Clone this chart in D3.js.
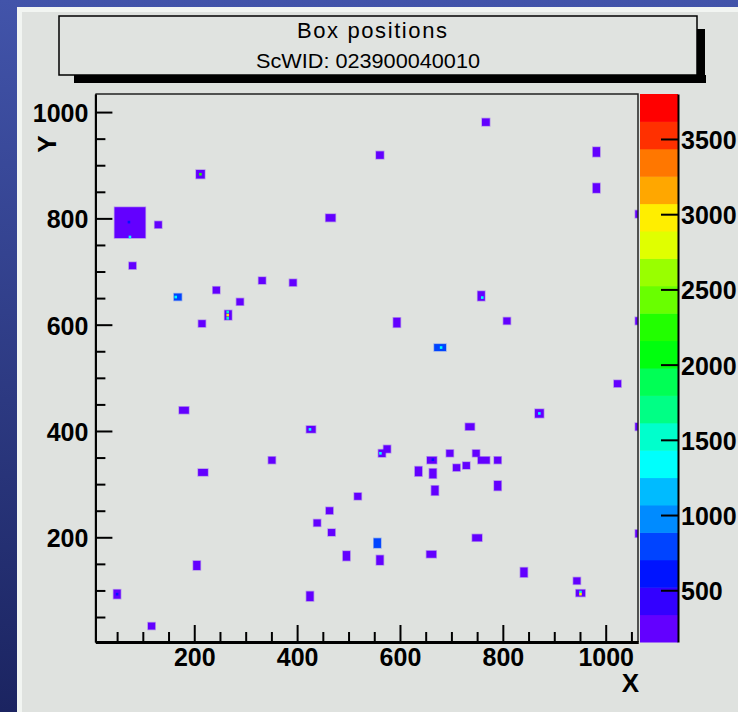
<!DOCTYPE html>
<meta charset="UTF-8">
<html lang="en">
<head><link rel="icon" href="data:,"></head>
<style>
body {
  margin: 0;
  background: #1c2562;
}
svg {
  display: block;
}
text {
  font-family: "Liberation Sans", Arial, Helvetica, sans-serif;
}
</style>
<script src="https://unpkg.com/d3@7.8.5/dist/d3.min.js"></script>
<body>
    <svg id="view"></svg>
</body>
<script>
const viewDims = { width: 738, height: 712 };

const titleLines = ["Box positions", "ScWID: 023900040010"];
const xTitle = "X";
const yTitle = "Y";
const xRange = [7.8, 1062.8];
const yRange = [3, 1034];
const zRange = [156, 3799];
const nLevels = 20;
const xTicks = [200, 400, 600, 800, 1000];
const yTicks = [200, 400, 600, 800, 1000];
const zTicks = [500, 1000, 1500, 2000, 2500, 3000, 3500];
const minorStep = 50;

// boxes: centre x, centre y, width, height (data units), content
const boxes = [
  [767, 981, 15, 14, 250], [561, 919, 15, 14, 250], [982, 925, 14, 18, 250],
  [982, 857, 14, 18, 250], [212, 883, 17, 16, 250], [75, 792, 60, 58, 250],
  [130, 788, 14, 13, 250], [465, 801, 19, 14, 250], [1065, 808, 15, 14, 250],
  [80, 711, 14, 13, 250], [168, 652, 15, 13, 800], [243, 665, 14, 13, 250],
  [332, 683, 14, 13, 250], [289, 643, 14, 13, 250], [266, 618, 14, 18, 250],
  [215, 602, 14, 13, 250], [392, 679, 14, 13, 250], [758, 654, 14, 18, 250],
  [594, 604, 14, 18, 250], [808, 607, 14, 13, 250], [1065, 607, 15, 14, 250],
  [678, 557, 23, 13, 800], [1023, 489, 14, 13, 250], [871, 433, 17, 16, 250],
  [1065, 408, 15, 14, 250], [427, 403, 18, 13, 250], [736, 408, 18, 13, 250],
  [351, 345, 14, 13, 250], [565, 358, 14, 14, 250], [575, 366, 14, 14, 250],
  [697, 358, 14, 13, 250], [748, 358, 14, 13, 250], [763, 345, 23, 13, 250],
  [790, 345, 14, 13, 250], [662, 345, 19, 13, 250], [636, 324, 14, 18, 250],
  [664, 320, 14, 18, 250], [710, 331, 14, 13, 250], [729, 335, 14, 13, 250],
  [790, 297, 14, 18, 250], [668, 288, 14, 18, 250], [518, 277, 14, 13, 250],
  [463, 250, 14, 13, 250], [439, 227, 14, 13, 250], [467, 209, 14, 13, 250],
  [556, 189, 14, 18, 800], [496, 165, 14, 18, 250], [561, 157, 14, 18, 250],
  [661, 168, 19, 13, 250], [750, 199, 19, 13, 250], [1065, 207, 15, 14, 250],
  [841, 134, 14, 18, 250], [944, 118, 14, 13, 250], [951, 95, 18, 13, 250],
  [425, 89, 14, 18, 250], [180, 439, 19, 13, 250], [217, 322, 19, 13, 250],
  [205, 147, 14, 17, 250], [50, 93, 14, 17, 250], [117, 33, 14, 13, 250]
];

// single hot bins inside boxes: x, y, content
const hotBins = [
  [212, 883, 2300], [73, 793, 700], [75, 765, 1400], [164, 652, 1400],
  [265, 624, 1500], [265, 618, 3000], [265, 612, 1500], [760, 651, 1400],
  [680, 557, 1400], [871, 433, 1400], [425, 403, 1400], [562, 358, 1400],
  [951, 97, 1500], [951, 93, 3000], [50, 93, 700], [664, 346, 700]
];
const hotSize = 5;

const frame = { left: 95.4, right: 638, top: 94, bottom: 642 };
const zbar = { left: 640, right: 678 };

// ROOT pretty palette (violet -> red), 50 colours shared over 20 levels
function levelColor(i){
    const idx = Math.floor((i + 0.99) * 50 / nLevels);
    const hue = 280 - (idx + 1) * 5.6;
    return d3.hsl(hue, 1, 0.5).formatHex();
}

function zColor(z){
    let lev = Math.floor((z - zRange[0]) / (zRange[1] - zRange[0]) * nLevels);
    lev = Math.max(0, Math.min(nLevels - 1, lev));
    return levelColor(lev);
}

function minorTicks(dom, majors){
    let out = [];
    for(let v = Math.ceil(dom[0] / minorStep) * minorStep; v <= dom[1]; v += minorStep){
        if(!majors.includes(v)) out.push(v);
    }
    return out;
}

const svg = d3.select("svg#view")
    .attr("width", viewDims.width)
    .attr("height", viewDims.height);

const defs = svg.append("defs");
const grad = defs.append("linearGradient").attr("id", "bg")
    .attr("x1", 0).attr("y1", 0).attr("x2", 0).attr("y2", 1);
grad.append("stop").attr("offset", "0%").attr("stop-color", "#4254aa");
grad.append("stop").attr("offset", "100%").attr("stop-color", "#1b2461");
defs.append("clipPath").attr("id", "frameclip")
    .append("rect")
    .attr("x", frame.left).attr("y", frame.top)
    .attr("width", frame.right - frame.left)
    .attr("height", frame.bottom - frame.top);

// page background and canvas pad
svg.append("rect").attr("width", viewDims.width).attr("height", viewDims.height).attr("fill", "url(#bg)");
svg.append("rect").attr("x", 17).attr("y", 7)
    .attr("width", viewDims.width - 17).attr("height", viewDims.height - 7)
    .attr("fill", "#dfe2df");
svg.append("path")
    .attr("d", `M17,7H738V12H22V712H17Z`)
    .attr("fill", "#f2f5f2");

// title pave with shadow
const pave = { x: 59, y: 16, w: 638, h: 59, sh: 8 };
svg.append("rect").attr("x", pave.x + 15).attr("y", pave.y + pave.h)
    .attr("width", pave.w - 6).attr("height", pave.sh).attr("fill", "#000");
svg.append("rect").attr("x", pave.x + pave.w).attr("y", pave.y + 13)
    .attr("width", pave.sh).attr("height", pave.h - 13 + pave.sh).attr("fill", "#000");
svg.append("rect").attr("x", pave.x).attr("y", pave.y)
    .attr("width", pave.w).attr("height", pave.h)
    .attr("fill", "#e0e3e0").attr("stroke", "#000").attr("stroke-width", 1.5);
svg.append("text").attr("x", 372).attr("y", 38)
    .attr("text-anchor", "middle").attr("font-size", 22)
    .attr("textLength", 150).attr("lengthAdjust", "spacing")
    .text(titleLines[0]);
svg.append("text").attr("x", 368).attr("y", 67.5)
    .attr("text-anchor", "middle").attr("font-size", 21)
    .attr("textLength", 224).attr("lengthAdjust", "spacingAndGlyphs")
    .text(titleLines[1]);

const x = d3.scaleLinear().domain(xRange).range([frame.left, frame.right]);
const y = d3.scaleLinear().domain(yRange).range([frame.bottom, frame.top]);
const z = d3.scaleLinear().domain(zRange).range([frame.bottom, frame.top]);
const fmt = d3.format("d");

// histogram cells
const cells = svg.append("g").attr("clip-path", "url(#frameclip)");
cells.selectAll("rect.box")
    .data(boxes)
    .enter()
    .append("rect")
    .attr("class", "box")
    .attr("x", d => x(d[0] - d[2] / 2))
    .attr("y", d => y(d[1] + d[3] / 2))
    .attr("width", d => x(d[0] + d[2] / 2) - x(d[0] - d[2] / 2))
    .attr("height", d => y(d[1] - d[3] / 2) - y(d[1] + d[3] / 2))
    .attr("fill", d => zColor(d[4]))
    .attr("stroke", d => zColor(d[4]))
    .attr("stroke-opacity", 0.35)
    .attr("stroke-width", 1.5);
cells.selectAll("rect.hot")
    .data(hotBins)
    .enter()
    .append("rect")
    .attr("class", "hot")
    .attr("x", d => x(d[0] - hotSize / 2))
    .attr("y", d => y(d[1] + hotSize / 2))
    .attr("width", x(hotSize) - x(0))
    .attr("height", y(0) - y(hotSize))
    .attr("fill", d => zColor(d[2]));

// colour bar
const levels = d3.range(nLevels);
const dz = (zRange[1] - zRange[0]) / nLevels;
svg.append("g").selectAll("rect")
    .data(levels)
    .enter()
    .append("rect")
    .attr("x", zbar.left)
    .attr("y", i => z(zRange[0] + (i + 1) * dz))
    .attr("width", zbar.right - zbar.left)
    .attr("height", i => z(zRange[0] + i * dz) - z(zRange[0] + (i + 1) * dz) + 0.5)
    .attr("fill", i => levelColor(i));

function styleAxis(g, width){
    g.attr("font-size", null).attr("font-family", null);
    g.selectAll("text")
        .attr("font-size", 25)
        .attr("font-weight", "bold")
        .attr("fill", "#000");
    g.selectAll(".tick line").attr("stroke", "#000").attr("stroke-width", 2);
    g.select(".domain").attr("stroke", "#000").attr("stroke-width", width);
}

// frame top / right
svg.append("path")
    .attr("d", `M${frame.left},${frame.top}H${frame.right}V${frame.bottom}`)
    .attr("fill", "none").attr("stroke", "#222").attr("stroke-width", 1.5);

// x axis
svg.append("g")
    .attr("transform", `translate(0,${frame.bottom})`)
    .call(d3.axisBottom(x).tickValues(minorTicks(xRange, xTicks)).tickSizeInner(-10).tickSizeOuter(0).tickFormat(""))
    .call(g => styleAxis(g, 3));
svg.append("g")
    .attr("transform", `translate(0,${frame.bottom})`)
    .call(d3.axisBottom(x).tickValues(xTicks).tickFormat(fmt).tickSizeInner(-17).tickSizeOuter(0).tickPadding(6))
    .call(g => styleAxis(g, 3));

// y axis
svg.append("g")
    .attr("transform", `translate(${frame.left},0)`)
    .call(d3.axisLeft(y).tickValues(minorTicks(yRange, yTicks)).tickSizeInner(-10).tickSizeOuter(0).tickFormat(""))
    .call(g => styleAxis(g, 2));
svg.append("g")
    .attr("transform", `translate(${frame.left},0)`)
    .call(d3.axisLeft(y).tickValues(yTicks).tickFormat(fmt).tickSizeInner(-17).tickSizeOuter(0).tickPadding(7))
    .call(g => styleAxis(g, 2))
    .call(g => g.selectAll("text").attr("dy", "0.38em"));

// z axis on the colour bar
svg.append("g")
    .attr("transform", `translate(${zbar.right},0)`)
    .call(d3.axisRight(z).tickValues(zTicks).tickFormat(fmt).tickSizeInner(-17).tickSizeOuter(0).tickPadding(3))
    .call(g => styleAxis(g, 2))
    .call(g => g.selectAll("text").attr("dy", "0.38em"));

// axis titles
svg.append("text")
    .attr("x", 639).attr("y", 692)
    .attr("text-anchor", "end")
    .attr("font-size", 26).attr("font-weight", "bold")
    .text(xTitle);
svg.append("text")
    .attr("transform", "translate(56,144) rotate(-90)")
    .attr("text-anchor", "middle")
    .attr("font-size", 26).attr("font-weight", "bold")
    .text(yTitle);
</script>
</html>
